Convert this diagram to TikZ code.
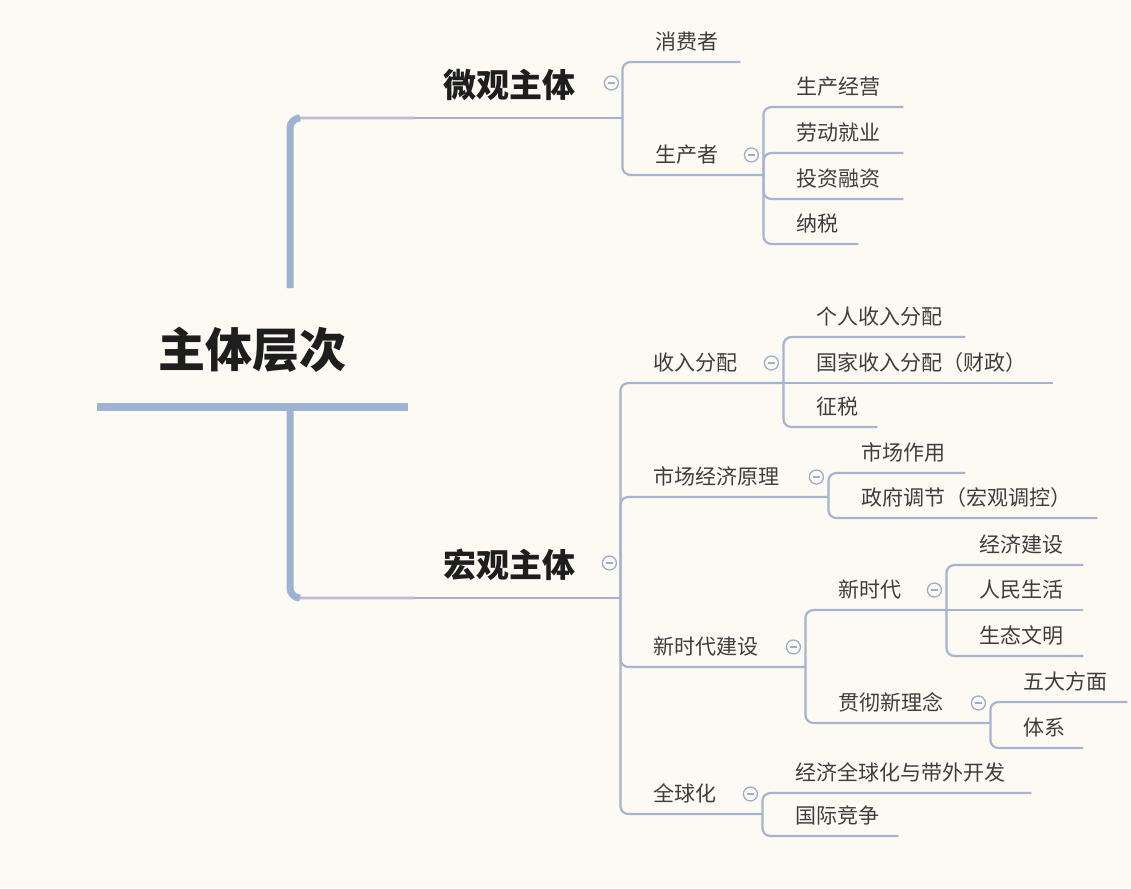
\documentclass[tikz,border=0pt]{standalone}
\usepackage{fontspec}
\newfontfamily\cjk{Noto Sans CJK SC}
\usetikzlibrary{positioning}
\definecolor{paper}{RGB}{252,250,243}
\definecolor{branch}{RGB}{166,180,207}
\definecolor{trunkblue}{RGB}{158,178,210}
\definecolor{stemgrey}{RGB}{184,190,202}
\definecolor{topicline}{RGB}{168,176,214}
\definecolor{ink}{RGB}{62,62,62}
\definecolor{darkink}{RGB}{30,30,30}
\definecolor{foldblue}{RGB}{160,172,203}

\begin{document}
\begin{tikzpicture}[
x=1pt, y=-1pt,
root/.style={font=\cjk\bfseries\fontsize{47}{47}\selectfont, text=darkink, anchor=south west, inner sep=0pt, text width=#1, align=center, minimum height=114},
topic/.style={font=\cjk\bfseries\fontsize{33}{33}\selectfont, text=darkink, anchor=south west, inner sep=0pt, text width=#1, align=left, minimum height=66, execute at begin node={\hspace*{28pt}}},
leaf/.style={font=\cjk\fontsize{21}{21}\selectfont, text=ink, anchor=south west, inner sep=0pt, text width=#1, align=left, minimum height=41, execute at begin node={\hspace*{33pt}}},
fold/.style={circle, draw=foldblue, line width=1.3pt, fill=paper, minimum size=14pt, inner sep=0pt, path picture={\draw[foldblue, line width=1.2pt] ([xshift=-3.5pt]path picture bounding box.center) -- ([xshift=3.5pt]path picture bounding box.center);}},
stem/.style={line width=7pt, trunkblue, rounded corners=10pt},
twig/.style={line width=2.6pt, stemgrey, rounded corners=10pt},
bar/.style={line width=2.6pt, topicline},
link/.style={line width=2.2pt, branch, rounded corners=8pt}
]
\path[use as bounding box, fill=paper] (0,0) rectangle (1131,888);

% Nodes
\node[root=311] (root) at (97,407) {主体层次};
\coordinate (hub) at (290,407);
\coordinate (hubtop) at (290,288);

\node[topic=207] (wg) at (415,118) {微观主体};
\node[topic=205] (hg) at (415,598) {宏观主体};

\node[leaf=118] (xf) at (622,62) {消费者};
\node[leaf=141] (sc) at (622,175) {生产者};
\node[leaf=140] (jy) at (763,107) {生产经营};
\node[leaf=140] (ld) at (763,153) {劳动就业};
\node[leaf=140] (tz) at (763,199) {投资融资};
\node[leaf=95] (ns) at (763,244) {纳税};

\node[leaf=163] (sr) at (620,383) {收入分配};
\node[leaf=182] (gr) at (783,337) {个人收入分配};
\node[leaf=270] (gj) at (783,383) {国家收入分配（财政）};
\node[leaf=94] (zs) at (783,427) {征税};

\node[leaf=208] (sm) at (620,497) {市场经济原理};
\node[leaf=137] (sz) at (828,473) {市场作用};
\node[leaf=269] (zf) at (828,518) {政府调节（宏观调控）};

\node[leaf=185] (xj) at (620,667) {新时代建设};
\node[leaf=141] (xs) at (805,610) {新时代};
\node[leaf=137] (jj) at (946,565) {经济建设};
\node[leaf=137] (rm) at (946,610) {人民生活};
\node[leaf=137] (st) at (946,656) {生态文明};
\node[leaf=185] (gc) at (805,723) {贯彻新理念};
\node[leaf=137] (wd) at (990,702) {五大方面};
\node[leaf=93] (tx) at (990,748) {体系};

\node[leaf=142] (qq) at (620,814) {全球化};
\node[leaf=269] (jq) at (762,793) {经济全球化与带外开发};
\node[leaf=136] (gg) at (762,836) {国际竞争};

% Trunk
\draw[twig] (hubtop) |- (wg.south west);
\draw[twig] (hub) |- (hg.south west);
\draw[stem] (hubtop) |- ++(10,-170);
\draw[stem] (hub) |- ++(10,191);
\draw[line width=8pt, trunkblue] (root.south west) -- (root.south east);
\draw[bar] (wg.south west) -- (wg.south east);
\draw[bar] (hg.south west) -- (hg.south east);

% Connections
\foreach \a/\b in {wg/xf, wg/sc, sc/jy, sc/ld, sc/tz, sc/ns, hg/sr, hg/sm, hg/xj, hg/qq, sr/gr, sr/zs, sm/sz, sm/zf, xj/xs, xj/gc, xs/jj, xs/st, gc/wd, gc/tx, qq/jq, qq/gg}
  \draw[link] (\a.south east) |- (\b.south east);
\draw[link] (sr.south east) -- (gj.south east);
\draw[link] (xs.south east) -- (rm.south east);

% Fold marks
\foreach \n in {wg,hg}
  \node[fold] (\n-f) at ([shift={(-11,-35)}]\n.south east) {};
\foreach \n in {sc,sr,sm,xj,xs,gc,qq}
  \node[fold] (\n-f) at ([shift={(-12,-20)}]\n.south east) {};

\end{tikzpicture}
\end{document}
